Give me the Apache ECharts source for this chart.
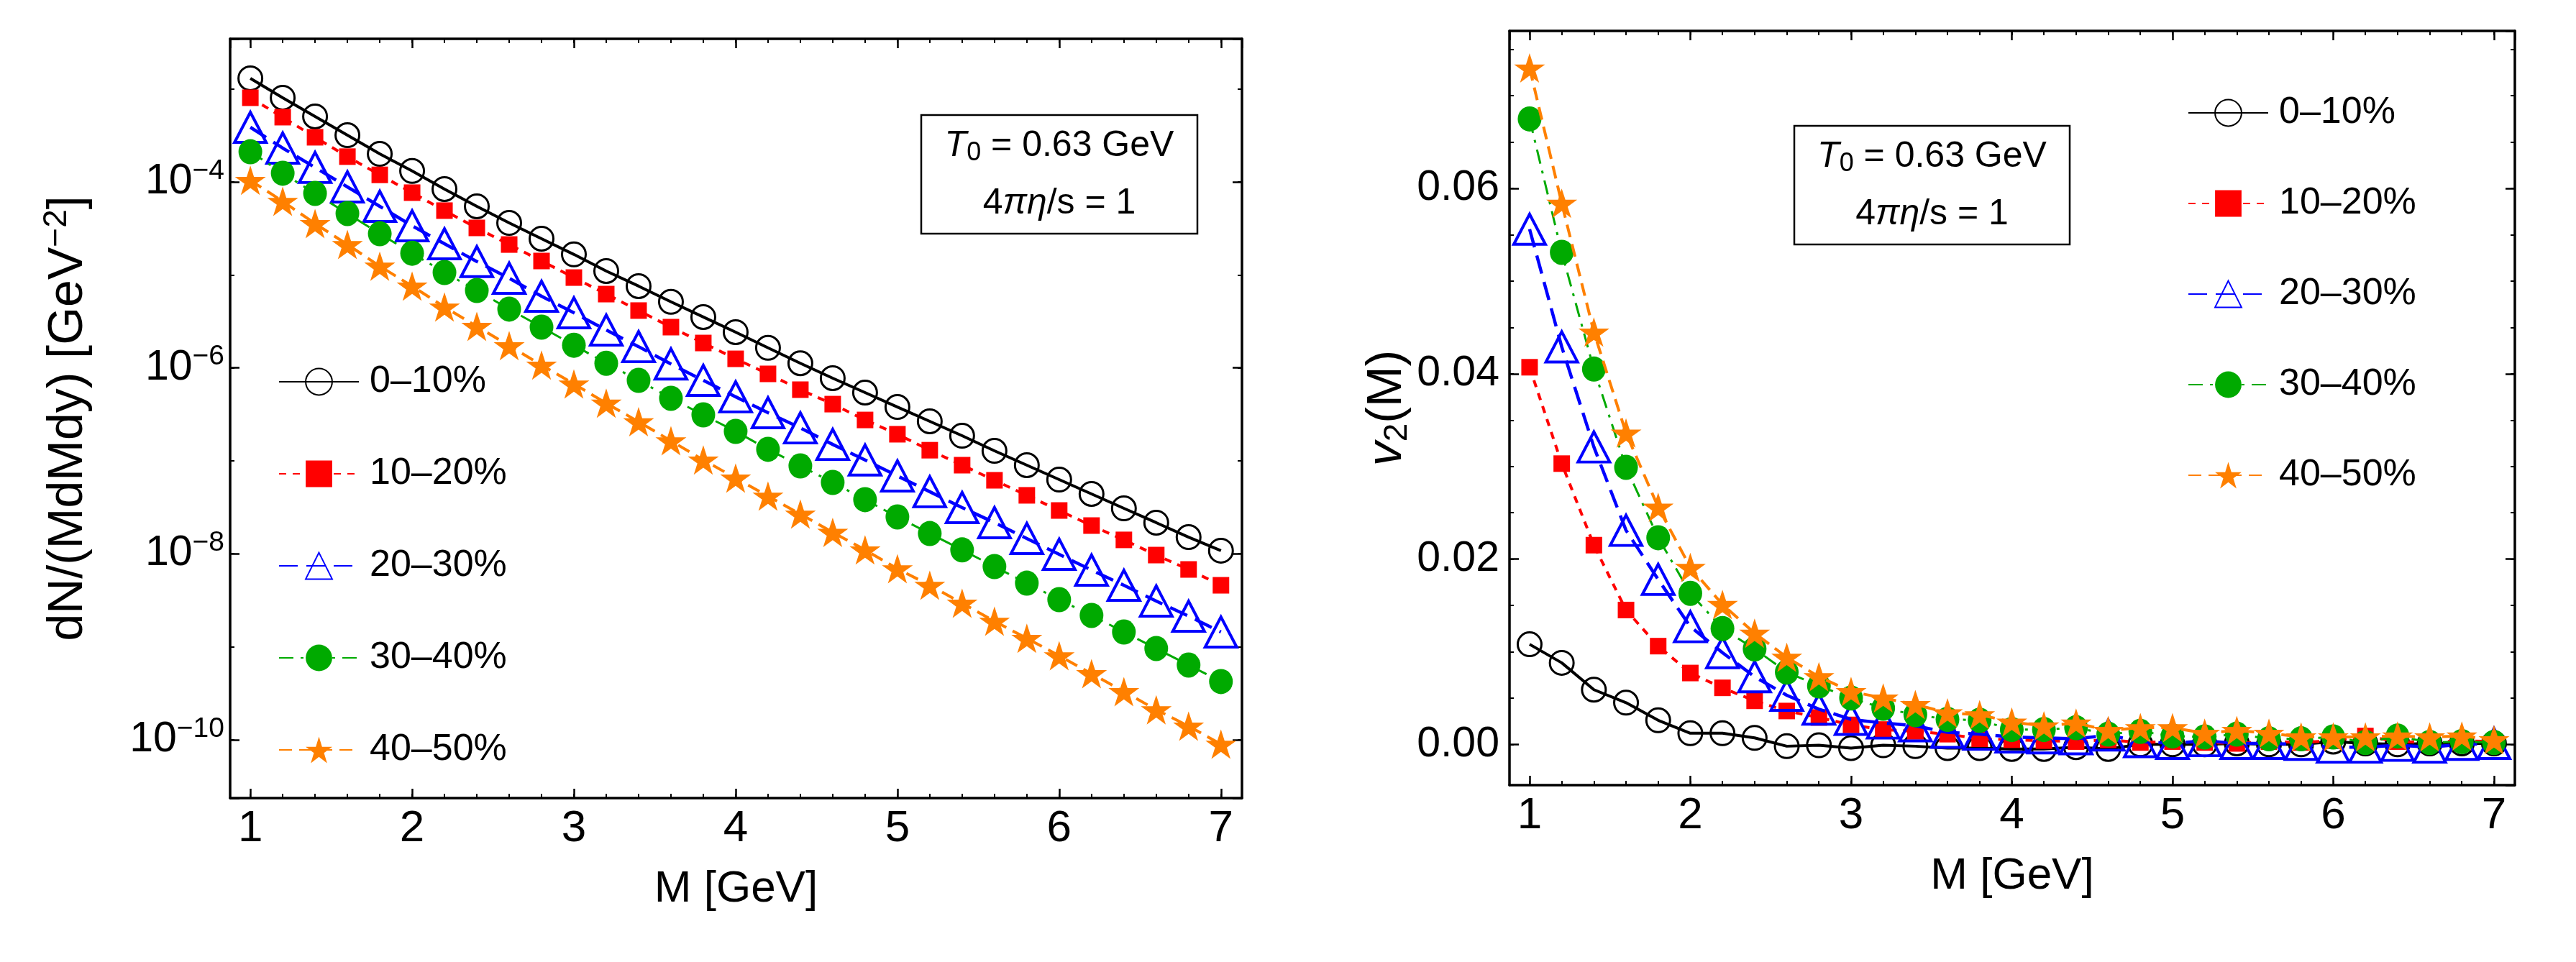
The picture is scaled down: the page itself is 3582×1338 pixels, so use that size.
<!DOCTYPE html>
<html><head><meta charset="utf-8">
<script src="https://cdn.jsdelivr.net/npm/echarts@6/dist/echarts.min.js"></script>
<style>html,body{margin:0;padding:0;background:#fff}#c{width:3582px;height:1338px}</style>
</head><body><div id="c"></div>
<script>
// ---------- data ----------
const masses = [1.0,1.2,1.4,1.6,1.8,2.0,2.2,2.4,2.6,2.8,3.0,3.2,3.4,3.6,3.8,4.0,4.2,4.4,4.6,4.8,5.0,5.2,5.4,5.6,5.8,6.0,6.2,6.4,6.6,6.8,7.0];
const centralities = ['0–10%','10–20%','20–30%','30–40%','40–50%'];

const dNdM_0_10  = [1.30e-3,8.04e-4,5.06e-4,3.18e-4,2.00e-4,1.31e-4,8.38e-5,5.46e-5,3.62e-5,2.45e-5,1.66e-5,1.10e-5,7.57e-6,5.13e-6,3.52e-6,2.42e-6,1.64e-6,1.12e-6,7.74e-7,5.42e-7,3.79e-7,2.66e-7,1.86e-7,1.28e-7,8.97e-8,6.28e-8,4.40e-8,3.08e-8,2.16e-8,1.51e-8,1.08e-8];
const dNdM_10_20 = [8.04e-4,4.97e-4,3.02e-4,1.87e-4,1.19e-4,7.66e-5,4.91e-5,3.20e-5,2.12e-5,1.41e-5,9.35e-6,6.21e-6,4.13e-6,2.74e-6,1.85e-6,1.25e-6,8.61e-7,5.82e-7,4.07e-7,2.75e-7,1.93e-7,1.30e-7,8.97e-8,6.17e-8,4.25e-8,2.92e-8,2.01e-8,1.41e-8,9.68e-9,6.78e-9,4.58e-9];
const dNdM_20_30 = [3.87e-4,2.31e-4,1.43e-4,8.83e-5,5.46e-5,3.37e-5,2.16e-5,1.39e-5,9.20e-6,5.89e-6,3.91e-6,2.55e-6,1.69e-6,1.10e-6,7.33e-7,4.88e-7,3.29e-7,2.26e-7,1.50e-7,1.02e-7,6.87e-8,4.65e-8,3.14e-8,2.16e-8,1.46e-8,9.86e-9,6.67e-9,4.58e-9,3.10e-9,2.13e-9,1.44e-9];
const dNdM_30_40 = [2.11e-4,1.24e-4,7.52e-5,4.57e-5,2.77e-5,1.71e-5,1.06e-5,6.79e-6,4.28e-6,2.74e-6,1.75e-6,1.12e-6,7.33e-7,4.70e-7,3.12e-7,2.07e-7,1.33e-7,8.81e-8,5.85e-8,3.82e-8,2.49e-8,1.65e-8,1.10e-8,7.28e-9,4.83e-9,3.21e-9,2.17e-9,1.44e-9,9.57e-10,6.35e-10,4.22e-10];
const dNdM_40_50 = [1.04e-4,6.18e-5,3.56e-5,2.12e-5,1.24e-5,7.57e-6,4.51e-6,2.79e-6,1.73e-6,1.07e-6,6.71e-7,4.17e-7,2.63e-7,1.64e-7,1.02e-7,6.52e-8,4.17e-8,2.67e-8,1.70e-8,1.10e-8,6.90e-9,4.58e-9,2.94e-9,1.88e-9,1.23e-9,8.00e-10,5.13e-10,3.29e-10,2.10e-10,1.40e-10,8.95e-11];

const v2_0_10  = [0.0108,0.0088,0.0059,0.0045,0.0026,0.0012,0.0012,0.0007,-0.0002,-0.0001,-0.0004,-0.0001,-0.0002,-0.0004,-0.0004,-0.0005,-0.0005,-0.0003,-0.0005,0.0000,0.0000,0.0000,0.0001,0.0000,0.0000,0.0003,0.0001,0.0000,0.0001,0.0001,0.0001];
const v2_10_20 = [0.0407,0.0303,0.0215,0.0145,0.0106,0.0077,0.0061,0.0047,0.0036,0.0029,0.0021,0.0016,0.0014,0.0011,0.0006,0.0005,0.0004,0.0003,0.0005,0.0002,0.0003,0.0002,0.0001,0.0003,0.0002,0.0004,0.0009,0.0003,0.0002,0.0004,0.0003];
const v2_20_30 = [0.0556,0.0429,0.0321,0.0231,0.0178,0.0127,0.0099,0.0073,0.0053,0.0038,0.0027,0.0023,0.0020,0.0013,0.0011,0.0008,0.0007,0.0006,0.0010,0.0003,0.0001,0.0004,0.0001,0.0001,0.0000,-0.0003,-0.0003,-0.0001,-0.0003,0.0000,0.0001];
const v2_30_40 = [0.0675,0.0531,0.0405,0.0299,0.0223,0.0163,0.0125,0.0103,0.0078,0.0063,0.0050,0.0039,0.0032,0.0027,0.0026,0.0016,0.0016,0.0018,0.0011,0.0014,0.0009,0.0008,0.0011,0.0006,0.0006,0.0008,0.0002,0.0009,0.0002,0.0003,0.0002];
const v2_40_50 = [0.0730,0.0584,0.0445,0.0336,0.0256,0.0191,0.0151,0.0120,0.0094,0.0073,0.0057,0.0050,0.0043,0.0034,0.0032,0.0024,0.0020,0.0023,0.0015,0.0018,0.0018,0.0012,0.0015,0.0012,0.0008,0.0008,0.0008,0.0009,0.0008,0.0009,0.0005];

// ---------- styling ----------
const FONT = '"Liberation Sans", Arial, Helvetica, sans-serif';
const STAR = 'path://M50 0 L61.2 34.5 L97.6 34.5 L68.2 55.9 L79.4 90.5 L50 69.1 L20.6 90.5 L31.8 55.9 L2.4 34.5 L38.8 34.5 Z';
const styles = [
  {color:'#000000', symbol:'circle',   size:33,       hollow:true,  lw:4,   type:'solid',         bw:3},
  {color:'#ff0000', symbol:'rect',     size:23,       hollow:false, lw:4,   type:[10,9],          bw:0},
  {color:'#0000ff', symbol:'triangle', size:[44,42],  hollow:true,  lw:4.5, type:[26,12],         bw:4},
  {color:'#00aa00', symbol:'circle',   size:[33,35],  hollow:false, lw:3,   type:[20,10,4,10],    bw:0},
  {color:'#ff8000', symbol:STAR,       size:[43,41],  hollow:false, lw:4,   type:[18,10],         bw:0}
];
const dndmSets = [dNdM_0_10, dNdM_10_20, dNdM_20_30, dNdM_30_40, dNdM_40_50];
const v2Sets = [v2_0_10, v2_10_20, v2_20_30, v2_30_40, v2_40_50];

const XMIN = 0.875, XMAX = 7.13;
const LOG_LO = -10.628, LOG_HI = -2.461;
const V2MIN = -0.0044, V2MAX = 0.077;

const frameLine = {show:true, onZero:false, lineStyle:{color:'#000', width:3.5}};
const noLine = {show:false, onZero:false};
const majTick = {show:true, inside:true, length:13, lineStyle:{color:'#000', width:2.5}};
const minTick = {show:true, inside:true, length:6, lineStyle:{color:'#000', width:2}};
const noLabel = {show:false};

function makeX(gridIndex) {
  const base = {type:'value', gridIndex, min:XMIN, max:XMAX, splitLine:{show:false}};
  return [
    Object.assign({}, base, {position:'bottom', splitNumber:6, axisLine:frameLine, axisTick:majTick,
      axisLabel:{show:true, color:'#000', fontFamily:FONT, fontSize:62, margin:12, showMinLabel:false, showMaxLabel:false,
        formatter: v => (Math.abs(v - Math.round(v)) < 1e-6 ? String(Math.round(v)) : '')},
      name:'M [GeV]', nameLocation:'middle', nameGap:96,
      nameTextStyle:{color:'#000', fontFamily:FONT, fontSize:62}}),
    Object.assign({}, base, {position:'bottom', splitNumber:31, axisLine:noLine, axisTick:minTick, axisLabel:noLabel}),
    Object.assign({}, base, {position:'top', splitNumber:6, axisLine:frameLine, axisTick:majTick, axisLabel:noLabel}),
    Object.assign({}, base, {position:'top', splitNumber:31, axisLine:noLine, axisTick:minTick, axisLabel:noLabel})
  ];
}

function logLabel(v) {
  const e = Math.log10(v);
  const r = Math.round(e);
  if (Math.abs(e - r) > 1e-6 || r % 2 !== 0) return '';
  return '10{sup|−' + (-r) + '}';
}
const tickSupRich = {sup:{fontFamily:FONT, fontSize:39, color:'#000', padding:[0,0,30,0]}};
const nameSupRich = {sup:{fontFamily:FONT, fontSize:46, color:'#000', padding:[0,0,32,0]}};

const yLeft = [
  {type:'log', logBase:10, gridIndex:0, position:'left', min:Math.pow(10, LOG_LO), max:Math.pow(10, LOG_HI), splitNumber:8,
   axisLine:frameLine, axisTick:minTick, splitLine:{show:false}, minorTick:{show:false},
   axisLabel:{show:true, color:'#000', fontFamily:FONT, fontSize:59, margin:8, showMinLabel:false, showMaxLabel:false, formatter:logLabel, rich:tickSupRich},
   name:'dN/(MdMdy) [GeV{sup|−2}]', nameLocation:'middle', nameRotate:90, nameGap:186,
   nameTextStyle:{color:'#000', fontFamily:FONT, fontSize:68, rich:nameSupRich}},
  {type:'value', gridIndex:0, position:'left', min:LOG_LO, max:LOG_HI, splitNumber:4, axisLine:noLine, axisTick:majTick, axisLabel:noLabel, splitLine:{show:false}},
  {type:'log', logBase:10, gridIndex:0, position:'right', min:Math.pow(10, LOG_LO), max:Math.pow(10, LOG_HI), splitNumber:8,
   axisLine:frameLine, axisTick:minTick, axisLabel:noLabel, splitLine:{show:false}},
  {type:'value', gridIndex:0, position:'right', min:LOG_LO, max:LOG_HI, splitNumber:4, axisLine:noLine, axisTick:majTick, axisLabel:noLabel, splitLine:{show:false}}
];
const yRight = [
  {type:'value', gridIndex:1, position:'left', min:V2MIN, max:V2MAX, splitNumber:4, axisLine:frameLine, axisTick:majTick, splitLine:{show:false},
   axisLabel:{show:true, color:'#000', fontFamily:FONT, fontSize:59, margin:14, showMinLabel:false, showMaxLabel:false, formatter: v => v.toFixed(2)},
   name:'{i|v}{sub|2}(M)', nameLocation:'middle', nameRotate:90, nameGap:92,
   nameTextStyle:{color:'#000', fontFamily:FONT, fontSize:68,
     rich:{i:{fontFamily:FONT, fontSize:68, fontStyle:'italic', color:'#000'}, sub:{fontFamily:FONT, fontSize:46, color:'#000', padding:[28,0,0,0]}}}},
  {type:'value', gridIndex:1, position:'left', min:V2MIN, max:V2MAX, splitNumber:16, axisLine:noLine, axisTick:minTick, axisLabel:noLabel, splitLine:{show:false}},
  {type:'value', gridIndex:1, position:'right', min:V2MIN, max:V2MAX, splitNumber:4, axisLine:frameLine, axisTick:majTick, axisLabel:noLabel, splitLine:{show:false}},
  {type:'value', gridIndex:1, position:'right', min:V2MIN, max:V2MAX, splitNumber:16, axisLine:noLine, axisTick:minTick, axisLabel:noLabel, splitLine:{show:false}}
];

function makeSeries(sets, xIdx, yIdx) {
  return sets.map((vals, k) => {
    const s = styles[k];
    return {
      type:'line', name:centralities[k], xAxisIndex:xIdx, yAxisIndex:yIdx,
      data: masses.map((m, i) => [m, vals[i]]),
      symbol:s.symbol, symbolSize:s.size, showAllSymbol:true, animation:false,
      lineStyle:{color:s.color, width:s.lw, type:s.type},
      itemStyle: s.hollow ? {color:'rgba(0,0,0,0)', borderColor:s.color, borderWidth:s.bw}
                          : {color:s.color, borderWidth:0},
      emphasis:{disabled:true}, z: 2 + k
    };
  });
}

function legendAt(left, top, gap) {
  return {data:centralities, orient:'vertical', left, top, itemWidth:111, itemHeight:46, itemGap:gap, padding:0,
    selectedMode:false, textStyle:{color:'#000', fontFamily:FONT, fontSize:52, lineHeight:52, padding:[0,0,0,10]}};
}

function infoBox(x, y, w, h) {
  const cx = x + w / 2;
  const rich = {
    i:{fontFamily:FONT, fontSize:50, fontStyle:'italic', fill:'#000'},
    sub:{fontFamily:FONT, fontSize:36, fill:'#000', padding:[20,0,0,0]},
    n:{fontFamily:FONT, fontSize:50, fill:'#000'}
  };
  return [
    {type:'rect', shape:{x, y, width:w, height:h}, style:{fill:'#fff', stroke:'#000', lineWidth:2.5}, z:10},
    {type:'text', x:cx, y:y + h * 0.26, z:11, style:{text:'{i|T}{sub|0}{n| = 0.63 GeV}', align:'center', verticalAlign:'middle', fontFamily:FONT, fontSize:50, fill:'#000', rich}},
    {type:'text', x:cx, y:y + h * 0.745, z:11, style:{text:'{n|4}{i|πη}{n|/s = 1}', align:'center', verticalAlign:'middle', fontFamily:FONT, fontSize:50, fill:'#000', rich}}
  ];
}

const chart = echarts.init(document.getElementById('c'), null, {renderer:'canvas'});
chart.setOption({
  backgroundColor:'#fff',
  animation:false,
  grid:[
    {left:320, top:54, width:1407, height:1056, containLabel:false, outerBoundsMode:'none'},
    {left:2099, top:43, width:1398, height:1049, containLabel:false, outerBoundsMode:'none'}
  ],
  xAxis: makeX(0).concat(makeX(1)),
  yAxis: yLeft.concat(yRight),
  legend:[legendAt(387, 505, 76), legendAt(3042, 131, 74)],
  series: makeSeries(dndmSets, 0, 0).concat(makeSeries(v2Sets, 4, 4)),
  graphic: infoBox(1281, 160, 384, 165).concat(infoBox(2495, 175, 383, 165))
});
</script>
</body></html>
